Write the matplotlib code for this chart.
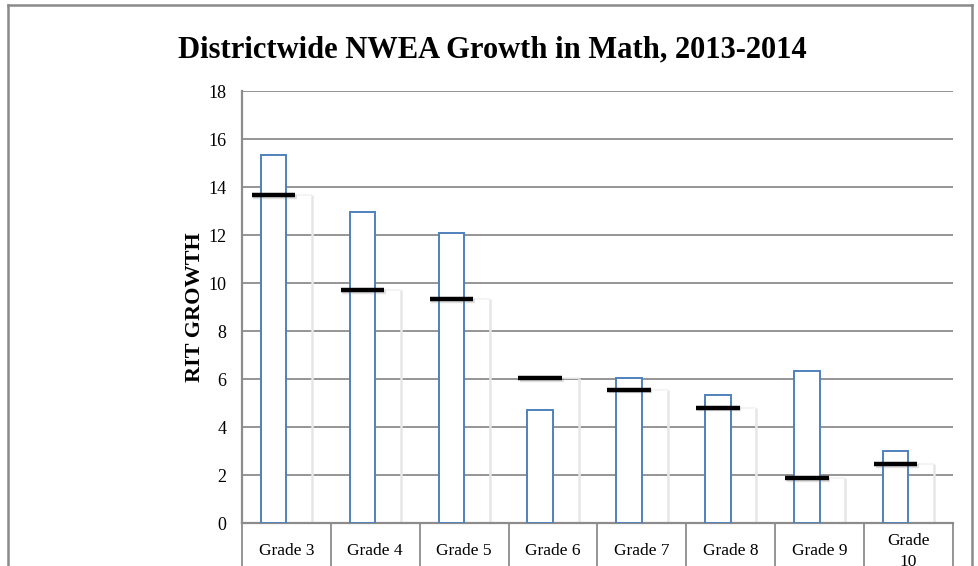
import numpy as np
import matplotlib
matplotlib.use("Agg")
import matplotlib.pyplot as plt
from matplotlib.lines import Line2D
import matplotlib.patheffects as pe

categories = ["Grade 3", "Grade 4", "Grade 5", "Grade 6", "Grade 7", "Grade 8", "Grade 9", "Grade\n10"]
growth = [15.35, 12.95, 12.1, 4.7, 6.03, 5.33, 6.33, 3.0]
target = [13.65, 9.7, 9.33, 6.03, 5.55, 4.8, 1.87, 2.45]
yticks = [0, 2, 4, 6, 8, 10, 12, 14, 16, 18]

plt.rcParams['font.family'] = ['Liberation Serif', 'DejaVu Serif']

W, H = 979, 566
fig = plt.figure(figsize=(W / 100, H / 100), dpi=100)
fig.patch.set_facecolor('white')

L, R, T, B = 242, 953, 91, 523
ax = fig.add_axes([L / W, 1 - B / H, (R - L) / W, (B - T) / H])

x = np.arange(len(categories))
bw = 0.288
off = 0.145
gray = '#8c8c8c'

# invisible second series + faint shadow on its right edge
ax.bar(x + off, target, width=bw, color='none', edgecolor='none')
ax.vlines(x + off + bw / 2, 0, target, colors='#e6e6e6', lw=1.8, zorder=1)
ax.hlines(target, x + off - bw / 2 + 0.05, x + off + bw / 2, colors='#f2f2f2', lw=1.2, zorder=1)

ax.bar(x - off, growth, width=bw, facecolor='white', edgecolor='#4F81BD', lw=1.4, zorder=3)

ax.hlines(target, x - off - 0.245, x - off + 0.245, colors='black', lw=3.2, zorder=4,
          path_effects=[pe.SimpleLineShadow(offset=(1.2, -1.2), alpha=0.25, shadow_color='gray'), pe.Normal()])

ax.set_xlim(-0.5, len(categories) - 0.5)
ax.set_ylim(0, 18)
ax.set_yticks(yticks)
ax.yaxis.grid(True, color=gray, lw=1.3)
ax.set_axisbelow(True)
ax.tick_params(axis='y', length=0, pad=11, labelsize=13)
ax.tick_params(axis='x', length=0, pad=20.5, labelsize=12.5)
ax.set_xticks(x, labels=categories)
for lbl in ax.get_xticklabels():
    lbl.set_va('center')
    lbl.set_linespacing(1.35)
for s in ['top', 'right']:
    ax.spines[s].set_visible(False)
for s in ['left', 'bottom']:
    ax.spines[s].set_color(gray)
    ax.spines[s].set_linewidth(1.6)

# table-like category cells below the axis
tr = ax.get_xaxis_transform()
for b in np.arange(-0.5, len(categories) + 0.5, 1.0):
    ax.plot([b, b], [0, -0.2], transform=tr, color=gray, lw=1.3, clip_on=False)

ax.set_ylabel("RIT GROWTH", fontsize=16, fontweight='bold')
ax.yaxis.set_label_coords(-(L - 195) / (R - L), 0.5)
ax.yaxis.label.set_va('center')

fig.text(492 / W, 1 - 50 / H, "Districtwide NWEA Growth in Math, 2013-2014",
         ha='center', va='center', fontsize=22, fontweight='bold')

# outer frame
fc = '#8a8a8a'
fig.add_artist(Line2D([8 / W, 8 / W], [-0.1, 1 - 5 / H], transform=fig.transFigure, color=fc, lw=1.8))
fig.add_artist(Line2D([8 / W, 972 / W], [1 - 5 / H, 1 - 5 / H], transform=fig.transFigure, color=fc, lw=1.8))
fig.add_artist(Line2D([972 / W, 972 / W], [-0.1, 1 - 5 / H], transform=fig.transFigure, color=fc, lw=1.8))

fig.savefig("out.png", dpi=100)
